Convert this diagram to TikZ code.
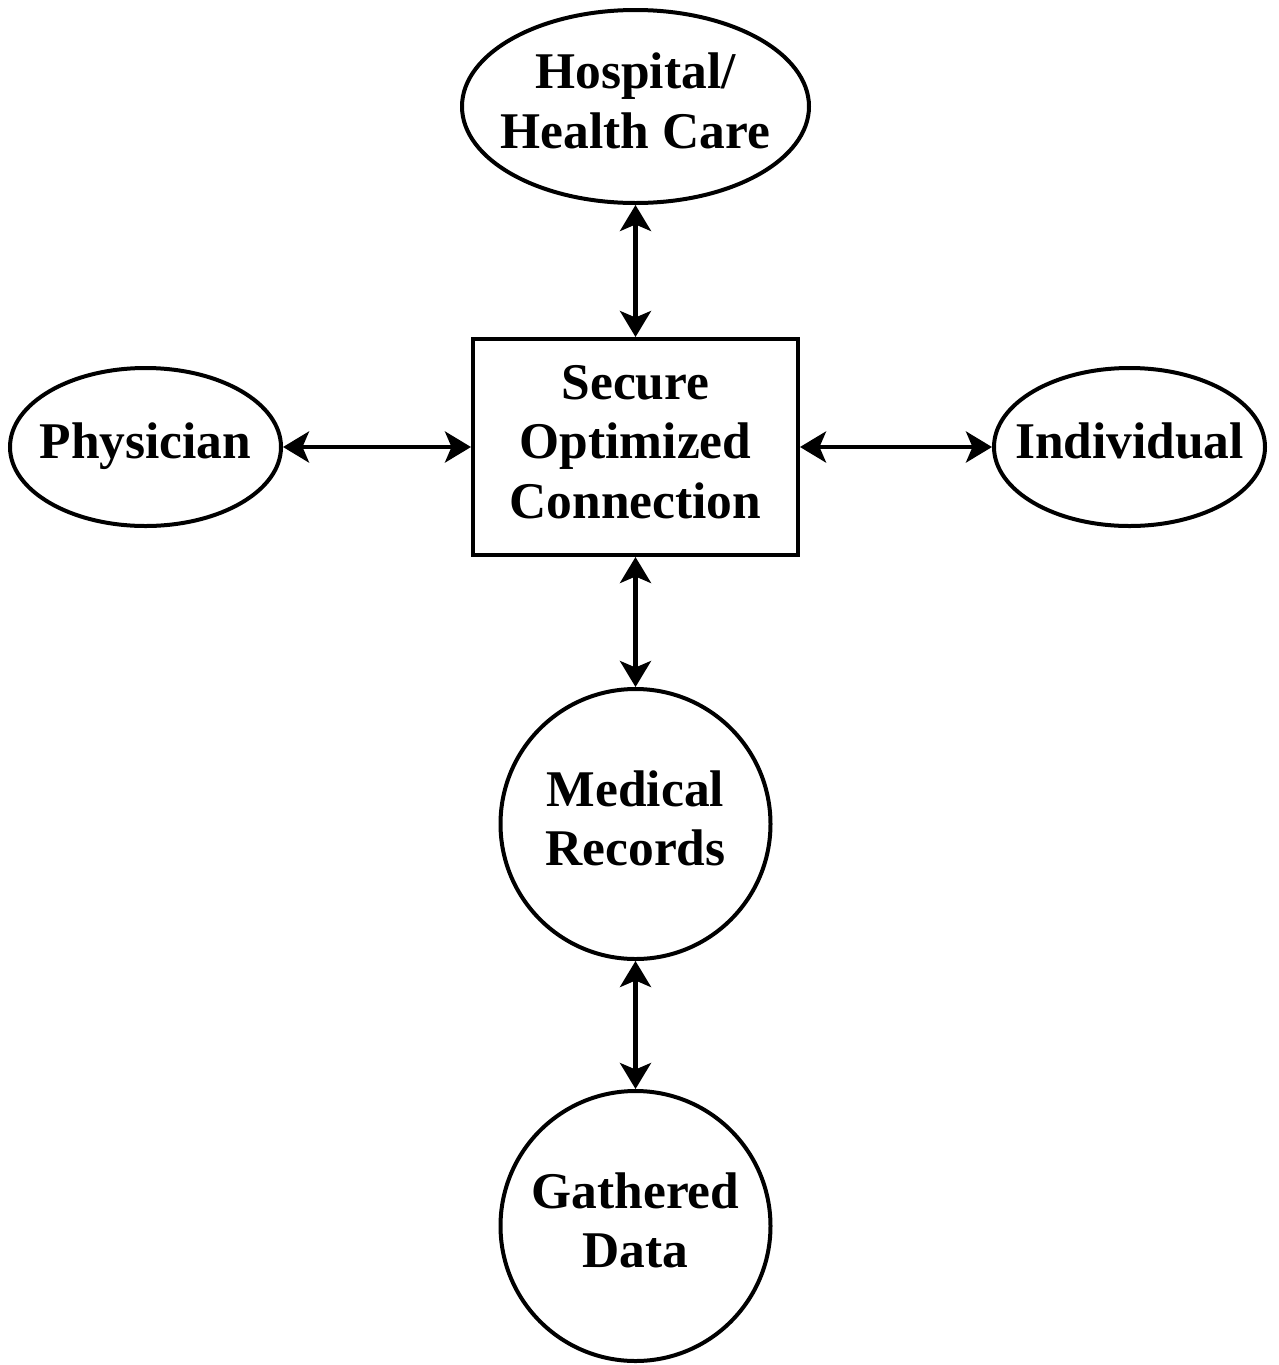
\documentclass[tikz,border=0pt]{standalone}
\usepackage{fontspec}
\setmainfont{Liberation Serif}
\usepackage{tikz}
\usetikzlibrary{shapes.geometric, arrows.meta, positioning}
\tikzstyle{base} = [draw=black, line width=0.08cm, inner sep=0pt,
font=\bfseries\fontsize{29.3}{34.1}\selectfont]
\tikzstyle{oval} = [base, ellipse, minimum width=5.42cm, minimum height=3.16cm]
\tikzstyle{bigoval} = [base, ellipse, minimum width=6.94cm, minimum height=3.86cm]
\tikzstyle{secbox} = [base, rectangle, minimum width=6.5cm, minimum height=4.32cm]
\tikzstyle{rnd} = [base, circle, minimum size=5.4cm]
\tikzstyle{arrow} = [line width=0.085cm, <->,
>={Stealth[length=0.52cm, width=0.62cm, inset=0.13cm]}]
\newcommand{\celltext}[1]{\makebox[0pt]{\begin{tabular}{@{}c@{}}#1\end{tabular}}}

\begin{document}
\begin{tikzpicture}[node distance=2.6cm]

      % \draw[help lines] (0,0) grid (26,-28);
      \useasboundingbox (0,0) rectangle (25.56,-27.3);

      \node (SOC) [secbox] at (12.71,-8.94) {\celltext{Secure\\ Optimized\\ Connection}};

      \node (HOSP) [bigoval, above=2.64cm of SOC] {\celltext{Hospital/\\ Health Care}};
      \node (PHY) [oval, left=3.76cm of SOC] {\celltext{Physician}};
      \node (IND) [oval, right=3.84cm of SOC] {\celltext{Individual}};

      \node (MED) [rnd, below=2.6cm of SOC] {\celltext{Medical\\ Records}};
      \node (GD) [rnd, below=2.56cm of MED] {\celltext{Gathered\\ Data}};

      \draw [arrow] (HOSP) -- (SOC);
      \draw [arrow] (PHY) -- (SOC);
      \draw [arrow] (SOC) -- (IND);
      \draw [arrow] (SOC) -- (MED);
      \draw [arrow] (MED) -- (GD);

\end{tikzpicture}
\end{document}
